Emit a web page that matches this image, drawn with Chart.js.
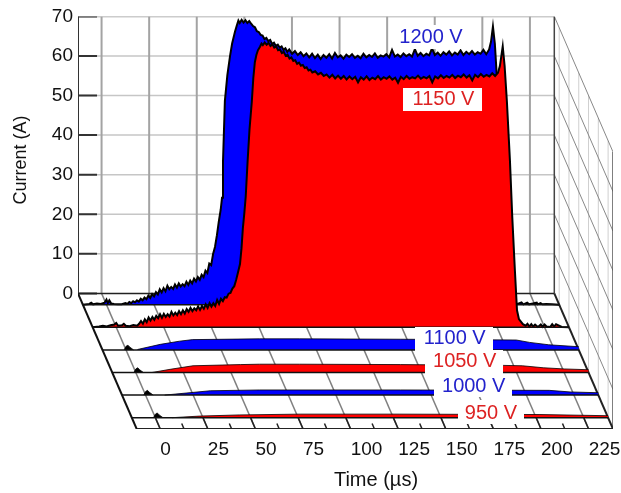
<!DOCTYPE html>
<html>
<head>
<meta charset="utf-8">
<title>Current pulses</title>
<script src="https://cdn.jsdelivr.net/npm/chart.js@4/dist/chart.umd.min.js"></script>
<style>
    body { margin: 0; background: #fff; }
    canvas { display: block; }
</style>
</head>
<body>
<canvas id="ChartPulsos" width="621" height="493"></canvas>
<script>
const timeTicks = [0, 25, 50, 75, 100, 125, 150, 175, 200, 225];
const minorTicks = [12.5, 37.5, 62.5, 87.5, 112.5, 137.5, 162.5, 187.5, 212.5];
const currentTicks = [0, 10, 20, 30, 40, 50, 60, 70];

// 1200 V, back row
const time1200 = [-12.4,-9,-8,-7,-5,-3,-1,0,0.7,1.5,2.5,4,6,8,10,11,12,13,14,15,16,17,18,19,20,21,22,23,24,25,26,27,28,29,30,31,32,33,34,35,36,37,38,39,40,41,42,43,44,45,46,47,48,49,50,51,52,53,54,55,56,57,58,59,60,60.7,61.2,62.2,63.5,64.9,66,67.5,68.5,69.3,70,71,72,73,74,75,76,77,78,79,80,81,82,83,84,85,86,87,88,89,90,91,92,93,94,95,96,97.5,99,100.5,102,103.5,105,106.5,108,109.5,111,112.5,114,115.5,117,118.5,120,121.5,123,124.5,126,127.5,129,130.5,132,133.5,135,136.5,138,139.5,141,142.5,144,145.5,147,148.5,150,151.5,153,154.5,156,157.5,159,160.5,162,163.5,165,166.5,168,169.5,171,172.5,174,175.5,177,178.5,180,181.5,183,184.5,186,187.5,189,190.5,192,193.5,195,196.5,198,199.5,201,202,203,204,205,206,207,208,209,210,212,214,216,218,219,221,222,224,226,226.5,228,229,231,234,237.8];
const current1200 = [0,0.2,0.5,0.1,0.3,0.2,0.5,1.3,0.4,1.1,0.3,0.2,0.1,0.1,0.4,0.2,0.7,0.4,0.9,0.6,1.1,0.8,1.5,1.1,1.8,1.4,2.3,1.7,2.7,2.1,3.2,2.6,3.9,3.1,4.2,3.4,4.8,3.9,4.5,4,5.1,4.3,5.4,4.6,5.2,4.7,5.8,5,6.1,5.4,6.6,5.9,7,6.3,7.6,7,8.6,8,10.4,10,12.8,14.6,17.5,21,24,27,36,51.5,58,62.8,66,69,70.6,71.8,71.2,72,71.3,71.9,71.2,71.7,71,70.4,70.1,69.1,68.9,68.2,68,67.1,67.4,66.6,66.9,65.9,66.2,65.4,65.7,65,65.3,64.4,64.8,63.9,64.5,63.4,64.1,63.1,63.8,62.8,63.5,62.5,63.4,62.3,63.2,62.1,63.1,62.4,63.3,62.2,63.6,62.5,63,62.2,63.2,62.6,63.3,62.4,62.9,62.3,63.4,62.5,63.1,62.6,63.5,62.4,63,62.7,63.3,62.5,64.4,62.7,63.2,62.6,63.5,62.8,63.3,62.7,64.6,62.9,63.6,62.8,63.4,63,64.8,63.1,63.7,62.9,63.8,63.2,64,63,63.7,63.2,64.3,63.1,63.9,63.3,64.1,63.2,63.8,63.4,64.4,63.3,64.5,66.5,70.3,66,58,44,28,14,7,3,1,0.5,0.2,0.6,0.1,0.5,0.1,0.3,0.5,0.1,0.4,0.1,0.2,0.1,0];

// 1150 V
const time1150 = [-12.4,-9,-7,-5,-3,-1,0,1,3,4,5,7,9,11,12,13,14,15,16,17,18,19,20,21,22,23,24,25,26,27,28,29,30,31,32,33,34,35,36,37,38,39,40,41,42,43,44,45,46,47,48,49,50,51,52,53,54,55,56,57,58,59,60,61,62,63,64,65,65.8,66.5,67.3,68,69,70,71.2,72,72.8,73.6,74.4,75.5,76.3,77,78,79,80,81,82,83,84,85,86,87,88,89,90,91,92,93,94,95,96,97,98,99,100,101,102,103,104.5,106,107.5,109,110.5,112,113.5,115,116.5,118,119.5,121,122.5,124,125.5,127,128.5,130,131.5,133,134.5,136,137.5,139,140.5,142,143.5,145,146.5,148,149.5,151,152.5,154,155.5,157,158.5,160,161.5,163,164.5,166,167.5,169,170.5,172,173.5,175,176.5,178,179.5,181,182.5,184,185.5,187,188.5,190,191.5,193,194.5,196,197.5,199,200.5,201.5,203,204,205.2,206.8,208,209.4,210.5,211.5,213.6,215,216,217,218,219,220,221.5,223,224,225,226,228,229,230,231,234,237.8];
const current1150 = [0,0.2,0.4,0.2,0.5,0.7,1.1,0.4,0.5,0.9,0.4,0.3,0.6,0.4,0.9,1.6,0.9,2,1.3,2.5,1.7,2.6,1.9,2.9,2.3,3.3,2.4,3.4,2.6,3.3,2.7,3.9,3,3.7,3.1,4.1,3.3,4.3,3.5,4.6,3.9,4.9,4.1,4.8,4.3,5.3,4.4,5.4,4.7,5.8,4.9,6.1,5.2,6.1,5.4,6.9,5.9,7.2,6.6,7.6,7.5,8.5,8.7,9.8,10.4,12,14,16,20,25,29,33,42,50,57,63,67,68.8,70,70.9,71.7,71.3,72,71.4,71.9,71.1,71.5,70.7,71,70,70.2,69.3,69.6,68.6,68.9,67.9,68.2,67.3,67.5,66.6,66.9,66.1,66.3,65.5,65.7,64.9,65.1,64.4,64.7,63.9,64.3,63.5,63.9,63.1,63.8,62.9,63.6,62.8,63.5,62.6,63.4,62.7,63.3,61.9,63.2,62.6,63.4,62.5,63.1,62.7,63.5,62.6,63.2,62.8,63.4,62.6,63.1,61.8,63.3,62.7,63.5,62.8,63.2,62.9,63.6,62.8,63.3,62.9,63.5,61.9,63.4,62.9,63.7,63,63.5,63.1,63.8,63,63.6,63.2,63.9,63.1,63.7,62.4,63.8,63.2,64,63.3,63.8,63.4,64.2,63.5,64.3,66,71,66,57,42,28,14.3,4.3,2.1,0.8,0.4,0.9,0.2,0.8,0.2,0.7,0.1,0.7,0.1,0.7,0.2,0.1,0.8,0.2,0.8,0.1,0];

// 1100 V to 950 V, low rows
const time1100 = [6,18,28,35,70,91,144,205,212,222,237.8];
const current1100 = [0.1,1.4,2.2,2.6,2.8,2.8,2.7,2.5,1.9,1.3,0.8];
const time1050 = [8.5,18,30,55,65,86,139,193,203,214,225,237.8];
const current1050 = [0,0.8,1.7,2,2.1,2.1,2,1.8,1.7,1.2,0.9,0.7];
const time1000 = [10,34,60,134,212,223,237.8];
const current1000 = [0,1.1,1.3,1.3,1.2,0.8,0.6];
const time950 = [8.7,23,44,76,128,202,237.8];
const current950 = [0,0.4,0.7,0.9,0.9,0.8,0.5];

// little black trigger blip at t = 0 on the low rows
const timeBlip = [-1,0,1,2,4];
const currentBlip = [0,0.9,1.2,0.7,0];

const voltageLabels = ['1200 V', '1150 V', '1100 V', '1050 V', '1000 V', '950 V'];

const BLUE = '#0000ff';
const RED = '#ff0000';

// the floor runs from the back wall to the front edge, this is how far it moves on the two scales
const floorX = 30.83;
const floorY = 34.26;
const tLeft = -12.38;
const tRight = 237.8;
const at = (t, amps, depth) => ({ x: t - (1 - depth) * floorX, y: amps - depth * floorY });

const datasets = [];
const addLine = (points, color, width) => {
    datasets.push({ data: points, borderColor: color, borderWidth: width, pointRadius: 0, fill: false });
};
const addRibbon = (times, values, depth, color, width) => {
    datasets.push({
        data: times.map((t, i) => at(t, values[i], depth)),
        borderColor: '#000',
        borderWidth: width,
        backgroundColor: color,
        pointRadius: 0,
        fill: { value: -depth * floorY }
    });
};
const addBase = depth => addLine([at(tLeft, 0, depth), at(tRight, 0, depth)], '#111', 1.5);

const rowDepths = voltageLabels.map((v, i) => (i + 0.5) / voltageLabels.length);

// right wall
rowDepths.forEach(d => addLine([at(tRight, 0, d), at(tRight, 70, d)], '#cfcfcf', 1));
currentTicks.slice(1).forEach(c => addLine([at(tRight, c, 0), at(tRight, c, 1)], '#888', 1));

// back wall
currentTicks.slice(1).forEach(c => {
    addLine([at(tLeft, c, 0), at(tRight, c, 0)], c === 70 ? '#999' : '#c6c6c6', 1.5);
});
timeTicks.forEach(t => addLine([at(t, 0, 0), at(t, 70, 0)], '#a3a3a3', 2));
addLine([at(tRight, 0, 0), at(tRight, 70, 0)], '#444', 1.5);
addLine([at(tRight, 70, 1), at(tRight, 0, 1)], '#555', 1.5);
addLine([at(tLeft, 0, 0), at(tLeft, 70, 0)], '#333', 2);
currentTicks.forEach(c => addLine([at(tLeft, c, 0), at(tLeft + 10, c, 0)], '#333', 2));

// floor
timeTicks.forEach(t => {
    addLine([at(t, 0, 0), at(t, 0, 1)], '#808080', 1.5);
    addLine([at(t, 0, 0.92), at(t, 0, 1)], '#222', 1.5);
});
minorTicks.forEach(t => addLine([at(t, 0, 0.96), at(t, 0, 1)], '#222', 1.5));
addLine([at(tLeft, 0, 0), at(tRight, 0, 0)], '#222', 1.5);
addLine([at(tLeft, 0, 0), at(tLeft, 0, 1)], '#111', 2);
addLine([at(tRight, 0, 0), at(tRight, 0, 1)], '#222', 2);
addLine([at(tLeft, 0, 1), at(tRight, 0, 1)], '#222', 2);

// pulses, back to front
addRibbon(time1200, current1200, rowDepths[0], BLUE, 2);
addBase(rowDepths[0]);
addRibbon(time1150, current1150, rowDepths[1], RED, 2);
addBase(rowDepths[1]);
[[time1100, current1100, BLUE], [time1050, current1050, RED], [time1000, current1000, BLUE], [time950, current950, RED]].forEach((row, i) => {
    const depth = rowDepths[i + 2];
    addRibbon(row[0], row[1], depth, row[2], 0.8);
    addRibbon(timeBlip, currentBlip, depth, '#000', 0.8);
    addBase(depth);
});

// last one in the list has to end up on top
datasets.forEach((d, i) => { d.order = -i; });

const FONT = '"Liberation Sans", Arial, sans-serif';

const labelBoxes = [
    { x: 398, y: 25, w: 68, h: 24, cx: 431, cy: 37, color: '#2222cc' },
    { x: 403, y: 88, w: 79, h: 23, cx: 443.5, cy: 99.5, color: '#dd2222' },
    { x: 415, y: 327, w: 78, h: 24, cx: 454.7, cy: 338.5, color: '#2222cc' },
    { x: 425, y: 350, w: 78, h: 24, cx: 464.7, cy: 361.5, color: '#dd2222' },
    { x: 434, y: 374, w: 78, h: 23, cx: 473.7, cy: 386.5, color: '#2222cc' },
    { x: 458, y: 400, w: 66, h: 24, cx: 491, cy: 413, color: '#dd2222' }
];

const textoPlugin = {
    id: 'texto',
    afterDatasetsDraw(chart) {
        const ctx = chart.ctx;
        ctx.save();
        ctx.textAlign = 'center';
        ctx.textBaseline = 'middle';
        ctx.font = '20px ' + FONT;
        labelBoxes.forEach((b, i) => {
            ctx.fillStyle = '#fff';
            ctx.fillRect(b.x, b.y, b.w, b.h);
            ctx.fillStyle = b.color;
            ctx.fillText(voltageLabels[i], b.cx, b.cy);
        });
        ctx.fillStyle = '#111';
        ctx.font = '20px ' + FONT;
        ctx.fillText('Time (µs)', 376, 480);
        ctx.translate(21, 160);
        ctx.rotate(-Math.PI / 2);
        ctx.font = '18px ' + FONT;
        ctx.fillText('Current (A)', 0, 0);
        ctx.restore();
    }
};

new Chart(document.getElementById('ChartPulsos'), {
    type: 'line',
    data: { datasets: datasets },
    plugins: [textoPlugin],
    options: {
        responsive: false,
        animation: false,
        layout: { padding: { top: 15.5, right: 8 } },
        plugins: {
            legend: { display: false },
            tooltip: { enabled: false },
            filler: { drawTime: 'beforeDatasetDraw' }
        },
        scales: {
            x: {
                type: 'linear',
                min: tLeft - floorX,
                max: tRight,
                grid: { display: false, drawTicks: false },
                border: { display: false },
                afterBuildTicks: scale => { scale.ticks = timeTicks.map(v => ({ value: v })); },
                afterFit: scale => {
                    scale.height = 64;
                    // labels hang over the right edge, chart area should not shrink for that
                    scale.paddingLeft = 0;
                    scale.paddingRight = 0;
                },
                ticks: {
                    autoSkip: false,
                    maxRotation: 0,
                    align: 'start',
                    padding: 9,
                    color: '#111',
                    font: { family: FONT, size: 19 }
                }
            },
            y: {
                type: 'linear',
                min: -floorY,
                max: 70,
                grid: { display: false, drawTicks: false },
                border: { display: false },
                afterBuildTicks: scale => { scale.ticks = currentTicks.map(v => ({ value: v })); },
                afterFit: scale => { scale.width = 78; },
                ticks: {
                    autoSkip: false,
                    padding: 5,
                    color: '#111',
                    font: { family: FONT, size: 19 }
                }
            }
        }
    }
});
</script>
</body>
</html>
